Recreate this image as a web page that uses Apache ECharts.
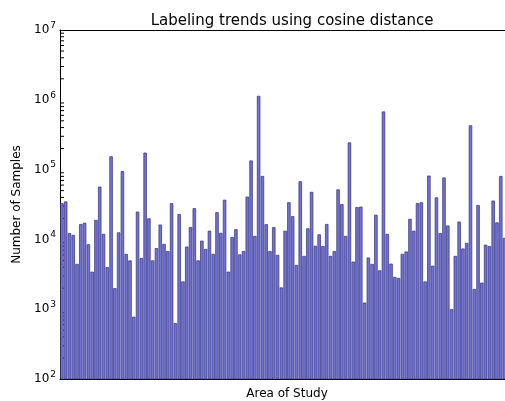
<!DOCTYPE html>
<html>
<head>
<meta charset="utf-8">
<script src="https://cdn.jsdelivr.net/npm/echarts@6/dist/echarts.min.js"></script>
<style>
html, body { margin: 0; padding: 0; background: #fff; }
#chart { width: 505px; height: 401px; }
</style>
</head>
<body>
<div id="chart"></div>
<script>
// samples per area (left to right)
var samples = [
	33000, 35000, 12300, 11600, 4450, 16600, 17300, 8500, 3450, 19000,
	57000, 12000, 4000, 155000, 2000, 12600, 95000, 6200, 5000, 780,
	25000, 5400, 175000, 20000, 5000, 7500, 16300, 8600, 6800, 33000,
	630, 23000, 2500, 7900, 15000, 28000, 5000, 9600, 7300, 13300,
	6200, 24500, 12400, 37000, 3450, 10800, 14000, 6100, 6800, 41000,
	135000, 11200, 1140000, 81000, 16500, 6800, 15000, 6000, 2050, 13300,
	34000, 21500, 4300, 68000, 5800, 14400, 48000, 8100, 11800, 8000,
	16600, 5800, 6800, 52000, 32000, 11200, 245000, 4800, 29000, 29500,
	1240, 5500, 4450, 22500, 3600, 680000, 12000, 4500, 2900, 2800,
	6200, 6700, 19700, 13300, 33000, 34000, 2500, 82000, 4200, 40000,
	12300, 77000, 15800, 1000, 5800, 18000, 7400, 8900, 430000, 1950,
	31000, 2400, 8400, 8000, 36000, 17500, 81000, 10500
]
// the plot runs a little past the window edge
var areaCount = 120
var areas = []
for (var i = 0; i < areaCount; i++) {
	areas.push('Area ' + (i + 1))
}
var decades = [2, 3, 4, 5, 6, 7]
var minorSteps = [2, 3, 4, 5, 6, 7, 8, 9]

var minorTicks = []
for (var d = 0; d < decades.length - 1; d++) {
	for (var m = 0; m < minorSteps.length; m++) {
		minorTicks.push([0, minorSteps[m] * Math.pow(10, decades[d])])
	}
}

var chart = echarts.init(document.getElementById('chart'))

var font = 'DejaVu Sans'

var option = {
	animation: false,
	title: {
		text: 'Labeling trends using cosine distance',
		left: 287,
		top: 9,
		textAlign: 'center',
		textStyle: { fontFamily: font, fontSize: 15, fontWeight: 'normal', color: '#000' }
	},
	grid: { left: 60, top: 30, width: 454, height: 349, outerBoundsMode: 'none', containLabel: false },
	xAxis: [
		{
			type: 'category',
			data: areas,
			name: 'Area of Study',
			nameLocation: 'middle',
			nameGap: 9,
			nameTextStyle: { fontFamily: font, fontSize: 12, color: '#000' },
			axisLine: { lineStyle: { color: '#000', width: 1 } },
			axisTick: { inside: true, length: 4, interval: 0, alignWithLabel: true, lineStyle: { color: '#000' } },
			axisLabel: { show: false },
			splitLine: { show: false }
		},
		{
			type: 'category',
			data: areas,
			position: 'top',
			axisLine: { lineStyle: { color: '#000', width: 1 } },
			axisTick: { inside: true, length: 4, interval: 0, alignWithLabel: true, lineStyle: { color: '#000' } },
			axisLabel: { show: false },
			splitLine: { show: false }
		}
	],
	yAxis: {
		type: 'log',
		logBase: 10,
		min: 100,
		max: 10000000,
		name: 'Number of Samples',
		nameLocation: 'middle',
		nameGap: 26,
		nameTextStyle: { fontFamily: font, fontSize: 12, color: '#000' },
		axisLine: { show: true, lineStyle: { color: '#000', width: 1 } },
		axisTick: { inside: true, length: 7, lineStyle: { color: '#000' } },
		splitLine: { show: false },
		axisLabel: {
			margin: 4,
			formatter: function (v) {
				return '{b|10}{s|' + Math.round(Math.log10(v)) + '}'
			},
			rich: {
				b: { fontFamily: font, fontSize: 12, color: '#000' },
				s: { fontFamily: font, fontSize: 9, color: '#000', padding: [0, 0, 9, 1] }
			}
		}
	},
	series: [
		{
			type: 'bar',
			data: samples,
			barCategoryGap: '10%',
			itemStyle: { color: '#7070e0', borderColor: '#34346e', borderWidth: 0.7 }
		},
		{
			type: 'custom',
			data: minorTicks,
			silent: true,
			clip: false,
			renderItem: function (params, api) {
				var p = api.coord([0, api.value(1)])
				var x0 = params.coordSys.x
				return {
					type: 'line',
					shape: { x1: x0, y1: p[1], x2: x0 + 4, y2: p[1] },
					style: { stroke: '#000', lineWidth: 1 }
				}
			}
		}
	]
}

chart.setOption(option)
</script>
</body>
</html>
